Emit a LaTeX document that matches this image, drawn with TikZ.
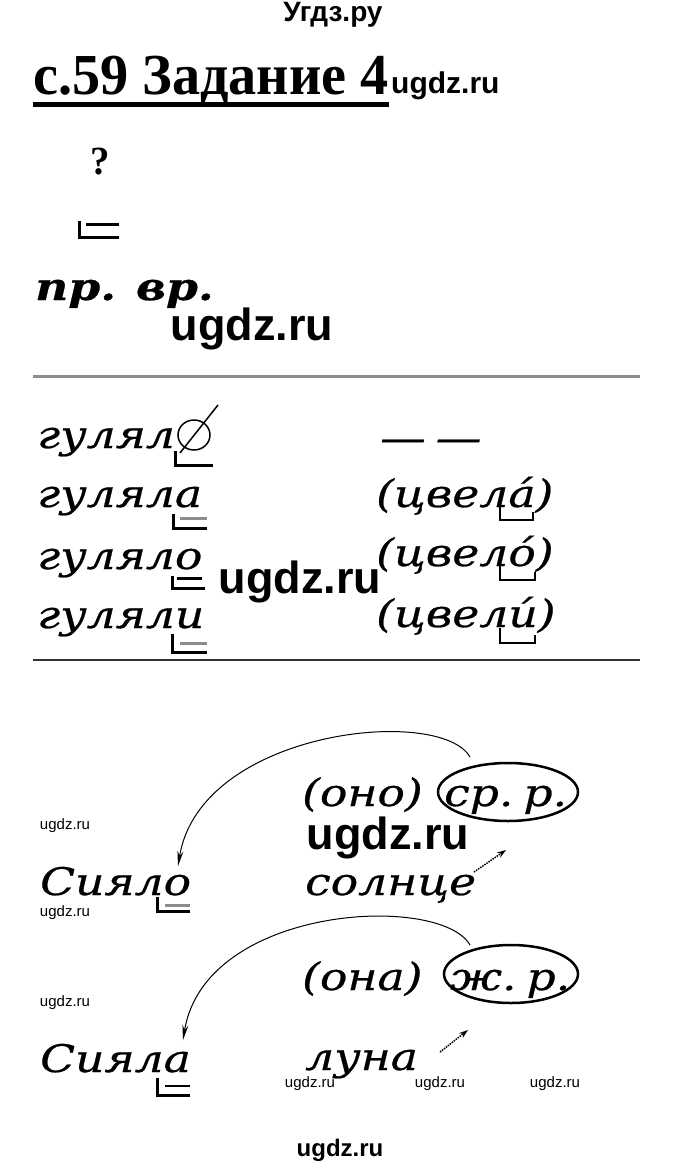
\documentclass[tikz,border=0pt]{standalone}
\usepackage{fontspec}
\usetikzlibrary{arrows.meta}
\newfontfamily\wmfont{Liberation Sans}
\newfontfamily\titlefont[FakeStretch=0.97]{Liberation Serif}
\newfontfamily\hand[FakeStretch=1.2,FakeBold=0.6]{DejaVu Serif}
\definecolor{rulegray}{gray}{0.55}
\tikzset{
  wm/.style={inner sep=0pt, font=\wmfont\bfseries\fontsize{#1}{#1}\selectfont},
  wmsmall/.style={inner sep=0pt, font=\wmfont\fontsize{15}{15}\selectfont},
  word/.style={inner sep=0pt, anchor=base west, font=\hand\itshape\fontsize{38}{40}\selectfont},
  endmark/.style={line width=3pt},
  greymark/.style={rulegray, line width=3pt},
}
\begin{document}
\begin{tikzpicture}[x=1pt,y=-1pt]
\useasboundingbox (0,0) rectangle (680,1172);
% header
\node[wm=28] (site) at (333,15) {Угдз.ру};
\node[anchor=base west, inner sep=0pt, font=\titlefont\bfseries\fontsize{58}{60}\selectfont] (title) at (33,94) {с.59 Задание 4};
\draw[line width=5pt] ([yshift=-10pt]title.base west) -- ([yshift=-10pt]title.base east);
\node[wm=30, anchor=base west] (wm1) at (391,93) {ugdz.ru};
% question, predicate, tense
\node[inner sep=0pt, font=\titlefont\bfseries\fontsize{40}{40}\selectfont] (quest) at (100,162) {?};
\draw[endmark] (79,221) -- (79,237) -- (119,237);
\draw[endmark] (86,224) -- (119,224);
\node[word, font=\hand\bfseries\itshape\fontsize{38}{40}\selectfont] (tense) at (35,300) {пр.\hspace*{20pt}вр.};
\node[wm=45] (wm2) at (252,329) {ugdz.ru};
\draw[rulegray, line width=3pt] (33,376) -- (640,376);

% past tense forms
\node[word] (row1) at (37,448) {гулял};
\draw[line width=1.5pt] (194,435) ellipse [x radius=16, y radius=15];
\draw[line width=1.5pt] (180,453) -- (218,405);
\draw[endmark] (175,451) -- (175,465) -- (213,465);
\node[word] (row2) at (37,507) {гуляла};
\draw[endmark] (173,514) -- (173,528) -- (207,528);
\draw[greymark] (180,518) -- (207,518);
\node[word] (row3) at (37,569) {гуляло};
\draw[endmark] (172,576) -- (172,588) -- (205,588);
\draw[endmark] (177,578) -- (202,578);
\node[word] (row4) at (37,628) {гуляли};
\draw[endmark] (172,634) -- (172,652) -- (207,652);
\draw[greymark] (180,643) -- (207,643);
\node[word] (dash) at (380,451) {—\hspace*{10pt}—};
\node[word] (tsvela) at (376,507) {(цвела́)};
\draw[line width=2.5pt] (500,505) -- (500,520) -- (533,520) -- (533,512);
\node[word] (tsvelo) at (376,566) {(цвело́)};
\draw[line width=2.5pt] (500,566) -- (500,580) -- (535,580) -- (535,572);
\node[word] (tsveli) at (376,627) {(цвели́)};
\draw[line width=2.5pt] (500,628) -- (500,643) -- (535,643) -- (535,635);
\node[wm=45] (wm3) at (300,582) {ugdz.ru};
\draw[black!80, line width=2pt] (33,660) -- (640,660);

% Сияло солнце
\node[word] (ono) at (302,806) {(оно)};
\node[word] (neut) at (444,806) {ср.\hspace*{10pt}р.};
\draw[line width=2.5pt] (508,792) ellipse [x radius=70, y radius=29];
\node[wm=45] (wm4) at (388,838) {ugdz.ru};
\node[word] (siyalo) at (40,895) {Сияло};
\node[word] (solnce) at (305,895) {солнце};
\draw[endmark] (157,897) -- (157,911) -- (190,911);
\draw[greymark] (165,905) -- (190,905);
\draw[line width=1pt, -{Stealth[length=15pt,width=6pt]}] (470,757) .. controls (440,705) and (200,730) .. (178,866);
\draw[densely dotted, line width=1.5pt, -{Stealth[length=9pt,width=6pt]}] (474,872) -- (506,850);

% Сияла луна
\node[word] (ona) at (302,990) {(она)};
\node[word] (fem) at (450,990) {ж.\hspace*{10pt}р.};
\draw[line width=2.5pt] (511,974) ellipse [x radius=67, y radius=29];
\node[word] (siyala) at (40,1072) {Сияла};
\node[word] (luna) at (305,1070) {луна};
\draw[endmark] (157,1078) -- (157,1095) -- (190,1095);
\draw[line width=1.5pt] (165,1086) -- (190,1086);
\draw[line width=1pt, -{Stealth[length=15pt,width=6pt]}] (470,945) .. controls (440,893) and (205,905) .. (183,1040);
\draw[densely dotted, line width=1.5pt, -{Stealth[length=9pt,width=6pt]}] (440,1052) -- (468,1030);

% watermarks
\node[wmsmall] (s1) at (65,826) {ugdz.ru};
\node[wmsmall] (s2) at (65,913) {ugdz.ru};
\node[wmsmall] (s3) at (65,1003) {ugdz.ru};
\node[wmsmall] (s4) at (310,1084) {ugdz.ru};
\node[wmsmall] (s5) at (440,1084) {ugdz.ru};
\node[wmsmall] (s6) at (555,1084) {ugdz.ru};
\node[wm=24] (wm5) at (340,1150) {ugdz.ru};
\end{tikzpicture}
\end{document}
